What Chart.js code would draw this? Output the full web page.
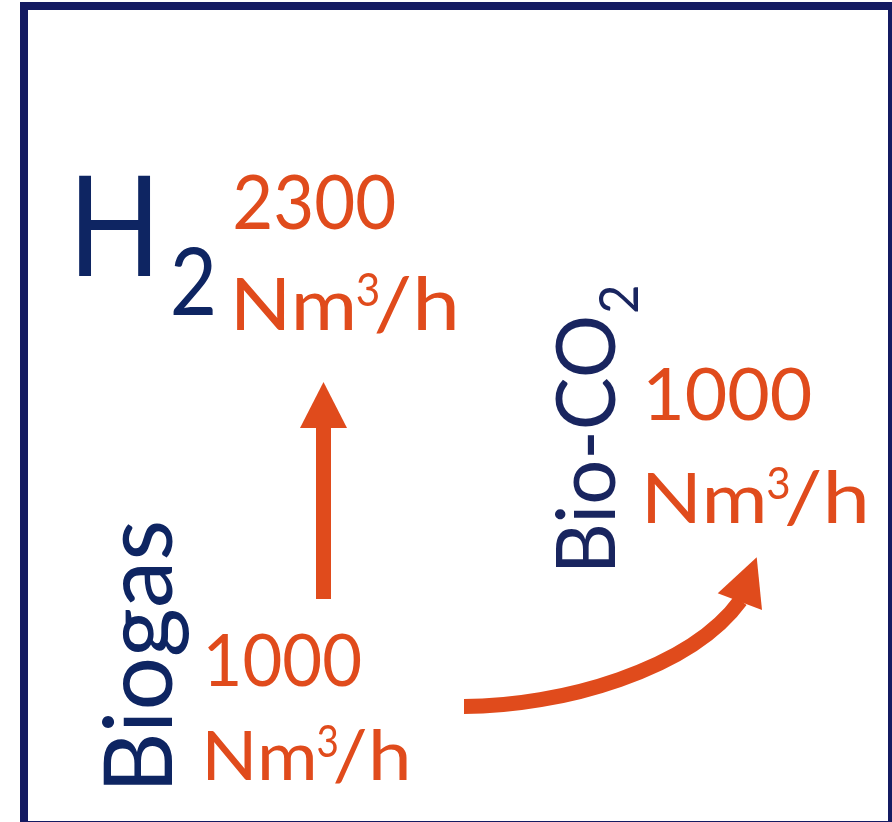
<!DOCTYPE html>
<html>
<head>
<meta charset="utf-8">
<script src="https://cdn.jsdelivr.net/npm/chart.js@4"></script>
<style>
html,body{margin:0;padding:0;background:#fff;overflow:hidden;}
canvas{display:block;}
</style>
</head>
<body>
<canvas id="c" width="892" height="822"></canvas>
<script>
// ---- data ----
const substances = ['Biogas', 'H₂', 'Bio-CO₂'];
const flowRates = [1000, 2300, 1000];
const flowUnit = 'Nm³/h';

// ---- styles / layout (pixel-space values mapped through the chart scales) ----
const FONT = 'Lato, "Open Sans", sans-serif';
const NAVY = '#0e2562';
const NAVY2 = '#19255f';
const ORANGE = '#e04b1c';
const FRAME = '#141b62';

const layout = {
  0: {
    name: {rot: true, left: 785, right: 523, base: 172, top: 103, color: NAVY, ref: 'B'},
    value: {left: 208, right: 360, base: 686, top: 633},
    unit: {left: 208, right: 407, base: 780, top: 730}
  },
  1: {
    name: {rot: false, left: 79, right: 151, base: 276, top: 174, color: NAVY, ref: 'H'},
    sub: {rot: false, left: 173, right: 213, base: 315, top: 247, color: NAVY, ref: '2'},
    value: {left: 235, right: 394, base: 229, top: 173},
    unit: {left: 237, right: 455, base: 330, top: 278}
  },
  2: {
    name: {rot: true, left: 567, right: 318, base: 615, top: 555, color: NAVY2, ref: 'B'},
    sub: {rot: true, left: 312, right: 287, base: 638, top: 598, color: NAVY2, ref: '2'},
    value: {left: 648, right: 810, base: 420, top: 367},
    unit: {left: 648, right: 865, base: 523, top: 472}
  }
};

// pieces of the unit text: x fractions of the unit width; heights in cap heights above baseline
const unitPieces = [
  {t: 'Nm', x0: 0.000, x1: 0.528, ref: 'N', top: 1.00},
  {t: '3',  x0: 0.553, x1: 0.648, top: 1.12, bot: 0.46},
  {t: '/h', x0: 0.638, x1: 1.000, ref: 'h', top: 1.04}
];

const arrows = {
  straight: {x: 323.5, y0: 599, y1: 428, tipY: 382, headHalf: 23.5, width: 15},
  curved: {p0: [464, 706.5], p1: [560, 706.5], p2: [690, 670], p3: [739.5, 602.5],
           head: [[717.7, 593.3], [756.7, 557.3], [762, 610]], width: 15}
};

function drawFit(ctx, sx, sy, text, box, color, ref) {
  ctx.save();
  ctx.font = '100px ' + FONT;
  ctx.textBaseline = 'alphabetic';
  ctx.textAlign = 'left';
  ctx.fillStyle = color;
  const m = ctx.measureText(text);
  const inkL = m.actualBoundingBoxLeft;
  const inkW = m.actualBoundingBoxLeft + m.actualBoundingBoxRight;
  const capA = ctx.measureText(ref || text).actualBoundingBoxAscent;
  if (box.rot) {
    const bx = sx(box.base), ly = sy(box.left), ry = sy(box.right), tx = sx(box.top);
    ctx.translate(bx, ly);
    ctx.rotate(-Math.PI / 2);
    ctx.scale((ly - ry) / inkW, (bx - tx) / capA);
  } else {
    const lx = sx(box.left), rx = sx(box.right), by = sy(box.base), ty = sy(box.top);
    ctx.translate(lx, by);
    ctx.scale((rx - lx) / inkW, (by - ty) / capA);
  }
  ctx.fillText(text, inkL, 0);
  ctx.restore();
}

function drawInk(ctx, text, x0, x1, yTop, yBot, color) {
  ctx.save();
  ctx.font = '100px ' + FONT;
  ctx.textBaseline = 'alphabetic';
  ctx.textAlign = 'left';
  ctx.fillStyle = color;
  const m = ctx.measureText(text);
  const inkL = m.actualBoundingBoxLeft;
  const inkW = m.actualBoundingBoxLeft + m.actualBoundingBoxRight;
  const asc = m.actualBoundingBoxAscent, desc = m.actualBoundingBoxDescent;
  ctx.translate(x0, yTop);
  ctx.scale((x1 - x0) / inkW, (yBot - yTop) / (asc + desc));
  ctx.fillText(text, inkL, asc);
  ctx.restore();
}

function drawUnit(ctx, sx, sy, box, color) {
  const lx = sx(box.left), rx = sx(box.right), by = sy(box.base), ty = sy(box.top);
  const w = rx - lx, cap = by - ty;
  unitPieces.forEach(p => {
    if (p.ref) {
      drawFit(ctx, v => v, v => v, p.t,
        {rot: false, left: lx + p.x0 * w, right: lx + p.x1 * w, base: by, top: by - p.top * cap},
        color, p.ref);
    } else {
      drawInk(ctx, p.t, lx + p.x0 * w, lx + p.x1 * w, by - p.top * cap, by - p.bot * cap, color);
    }
  });
}

const drawPlugin = {
  id: 'infographic',
  afterDatasetsDraw(chart) {
    const ctx = chart.ctx;
    const xs = chart.scales.x, ys = chart.scales.y;
    const sx = v => xs.getPixelForValue(v);
    const sy = v => ys.getPixelForValue(v);

    // frame
    ctx.save();
    ctx.strokeStyle = FRAME;
    ctx.lineWidth = 8;
    ctx.strokeRect(sx(24), sy(6), sx(892) - sx(24), sy(825) - sy(6));
    ctx.restore();

    // straight arrow
    const a = arrows.straight;
    ctx.save();
    ctx.fillStyle = ORANGE;
    ctx.fillRect(sx(a.x - a.width / 2), sy(a.y1), sx(a.x + a.width / 2) - sx(a.x - a.width / 2), sy(a.y0) - sy(a.y1));
    ctx.beginPath();
    ctx.moveTo(sx(a.x - a.headHalf), sy(a.y1));
    ctx.lineTo(sx(a.x + a.headHalf), sy(a.y1));
    ctx.lineTo(sx(a.x), sy(a.tipY));
    ctx.closePath();
    ctx.fill();
    // curved arrow
    const c = arrows.curved;
    ctx.strokeStyle = ORANGE;
    ctx.lineWidth = c.width;
    ctx.lineCap = 'butt';
    ctx.beginPath();
    ctx.moveTo(sx(c.p0[0]), sy(c.p0[1]));
    ctx.bezierCurveTo(sx(c.p1[0]), sy(c.p1[1]), sx(c.p2[0]), sy(c.p2[1]), sx(c.p3[0]) + 1, sy(c.p3[1]) - 2);
    ctx.stroke();
    ctx.beginPath();
    ctx.moveTo(sx(c.head[0][0]), sy(c.head[0][1]));
    ctx.lineTo(sx(c.head[1][0]), sy(c.head[1][1]));
    ctx.lineTo(sx(c.head[2][0]), sy(c.head[2][1]));
    ctx.closePath();
    ctx.fill();
    ctx.restore();

    // texts
    substances.forEach((name, i) => {
      const L = layout[i];
      const hasSub = name.includes('₂');
      const main = name.replace('₂', '');
      drawFit(ctx, sx, sy, main, L.name, L.name.color, L.name.ref);
      if (hasSub && L.sub) drawFit(ctx, sx, sy, '2', L.sub, L.sub.color, L.sub.ref);
      drawFit(ctx, sx, sy, String(flowRates[i]), Object.assign({rot: false}, L.value), ORANGE);
      if (flowUnit === 'Nm³/h') drawUnit(ctx, sx, sy, L.unit, ORANGE);
      else drawFit(ctx, sx, sy, flowUnit, Object.assign({rot: false}, L.unit), ORANGE, 'N');
    });
  }
};

new Chart(document.getElementById('c'), {
  type: 'scatter',
  data: {
    datasets: [{
      label: 'flows',
      data: flowRates.map((v, i) => ({x: layout[i].value.left, y: layout[i].value.base})),
      pointRadius: 0,
      pointHoverRadius: 0
    }]
  },
  options: {
    responsive: false,
    animation: false,
    events: [],
    layout: {padding: 0},
    plugins: {legend: {display: false}, tooltip: {enabled: false}, title: {display: false}},
    scales: {
      x: {type: 'linear', min: 0, max: 892, display: false},
      y: {type: 'linear', min: 0, max: 822, reverse: true, display: false}
    }
  },
  plugins: [drawPlugin]
});
</script>
</body>
</html>
